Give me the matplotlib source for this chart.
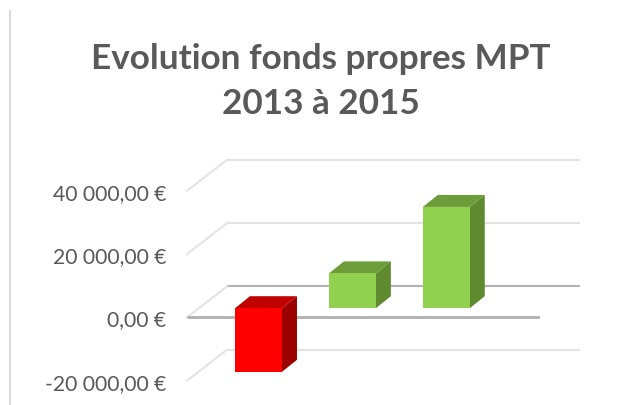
import matplotlib
matplotlib.use('Agg')
import matplotlib.pyplot as plt
from matplotlib.patches import Polygon
from matplotlib.lines import Line2D

# donnees du graphique
annees = ['2013', '2014', '2015']
fonds_propres = [-20100, 11000, 32000]
graduations = [-20000, 0, 20000, 40000]
etiquettes = ['-20 000,00 €', '0,00 €', '20 000,00 €', '40 000,00 €']
titre = 'Evolution fonds propres MPT\n2013 à 2015'

W, H = 621, 406
plt.rcParams['font.family'] = ['Lato', 'DejaVu Sans']

fig = plt.figure(figsize=(W / 100, H / 100), dpi=100)
fig.patch.set_facecolor('white')

# zone du trace en pixels (plan avant)
px_g, px_d = 187, 540
px_bas, px_haut = 381.7, 160.7
ax = fig.add_axes([px_g / W, 1 - px_bas / H, (px_d - px_g) / W, (px_bas - px_haut) / H])

px_par_euro = 63.3 / 20000
px_par_cat = 93.9
ax.set_ylim(-20000, -20000 + (px_bas - px_haut) / px_par_euro)
x0 = (258.5 - px_g) / px_par_cat
ax.set_xlim(-x0, (px_d - px_g) / px_par_cat - x0)

for s in ax.spines.values():
    s.set_visible(False)
ax.set_xticks([])
ax.set_yticks(graduations)
ax.set_yticklabels(etiquettes, fontsize=15.2, color='#595959')
ax.tick_params(axis='y', length=0, pad=15)

# decalage de la profondeur 3D, en unites de donnees
dx_mur, dy_mur = 40 / px_par_cat, 31 / px_par_euro
dx_bar, dy_bar = 15 / px_par_cat, 12 / px_par_euro
x_min, x_max = ax.get_xlim()

# quadrillage : plan du fond + cotes
for v in graduations:
    couleur = '#b3b3b3' if v == 0 else '#e4e4e4'
    ax.plot([x_min + dx_mur, x_max + dx_mur], [v + dy_mur, v + dy_mur], color=couleur,
            lw=1.5, clip_on=False, zorder=1, solid_capstyle='butt')
    ax.plot([x_min, x_min + dx_mur], [v, v + dy_mur], color='#e4e4e4',
            lw=1.5, clip_on=False, zorder=1)

# base des barres : un peu en arriere de l'axe avant
y_base = 9.2 / px_par_euro
largeur = 0.5

# axe zero du plan avant, derriere la face rouge
ax.plot([x_min, x_max], [0, 0], color='#b0b0b0', lw=2, zorder=2, solid_capstyle='butt')

for i in range(len(annees)):
    val = fonds_propres[i]
    if val < 0:
        c_face, c_dessus, c_cote = '#ff0000', '#c00000', '#9c0000'
    else:
        c_face, c_dessus, c_cote = '#92d050', '#6d9c3a', '#5f8a30'
    g, d = i - largeur / 2, i + largeur / 2
    b, h = y_base + min(val, 0), y_base + max(val, 0)
    ax.add_patch(Polygon([(d, b), (d + dx_bar, b + dy_bar), (d + dx_bar, h + dy_bar), (d, h)],
                         fc=c_cote, ec='none', zorder=3))
    ax.add_patch(Polygon([(g, h), (d, h), (d + dx_bar, h + dy_bar), (g + dx_bar, h + dy_bar)],
                         fc=c_dessus, ec='none', zorder=3))
    ax.bar(i, h - b, bottom=b, width=largeur, color=c_face, zorder=3)

ax.set_xlim(x_min, x_max)

fig.text(321 / W, 1 - 81.5 / H, titre, ha='center', va='center', fontsize=25.3,
         fontweight='bold', color='#595959', linespacing=1.5)

# trait vertical a gauche (bord du cadre)
fig.add_artist(Line2D([9.8 / W, 9.8 / W], [0, 1 - 12 / H], color='#d9d9d9', lw=1.4))

fig.savefig('out.png', dpi=100)
